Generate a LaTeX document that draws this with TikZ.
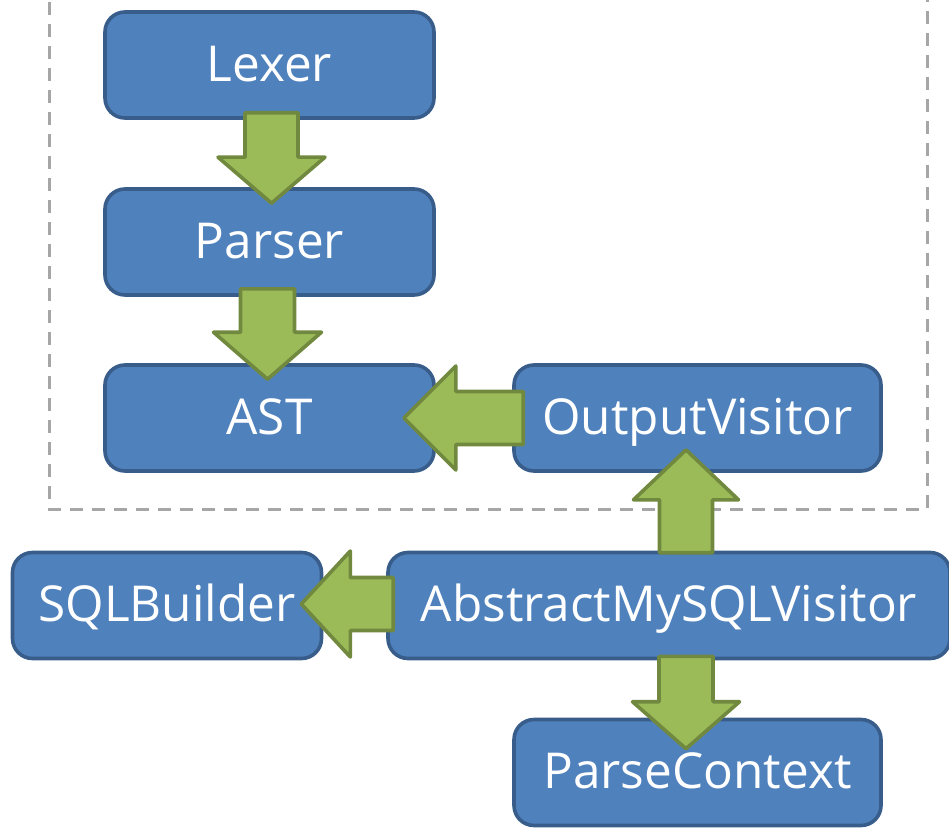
\documentclass[tikz,border=0pt]{standalone}
\usepackage{fontspec}
\setmainfont{Open Sans}
\usetikzlibrary{calc}
\definecolor{boxfill}{HTML}{4F81BD}
\definecolor{boxline}{HTML}{385D8A}
\definecolor{arrfill}{HTML}{9BBB59}
\definecolor{arrline}{HTML}{71893F}
\definecolor{dashgray}{HTML}{A6A6A6}
\newcommand{\blockarr}[5]{% tail, tip, shaft half width, head half width, head length
  \draw[garrow] let \p1=(#1), \p2=(#2),
    \n1={veclen(\x2-\x1,\y2-\y1)}, \n2={atan2(\y2-\y1,\x2-\x1)} in
    [shift={(\p1)}, rotate=\n2]
    (0,-#3) -- ({\n1-#5},-#3) -- ({\n1-#5},-#4) -- (\n1,0) --
    ({\n1-#5},#4) -- ({\n1-#5},#3) -- (0,#3) -- cycle;}
\begin{document}
\begin{tikzpicture}[x=1pt,y=1pt,
  box/.style={draw=boxline, fill=boxfill, line width=3.6pt, rounded corners=20pt,
    minimum height=106pt, text=white, font=\fontsize{49.5}{52}\selectfont, inner sep=0pt,
    text height=42pt, text depth=9.7pt},
  garrow/.style={draw=arrline, fill=arrfill, line width=3.6pt, line join=round}]
\useasboundingbox (0,0) rectangle (949,-829);
\draw[dashgray, line width=3pt, dash pattern=on 13pt off 9pt] (49,20) |- (927,-509) -- (927,20);
\node[box, minimum width=329pt] (lexer) at (269.5,-65) {Lexer};
\node[box, minimum width=329pt] (parser) at (269.5,-242) {Parser};
\node[box, minimum width=329pt] (ast) at (269.5,-418) {AST};
\node[box, minimum width=367pt] (ov) at (697.5,-418) {OutputVisitor};
\node[box, minimum width=309pt] (sqlb) at (167,-605.5) {SQLBuilder};
\node[box, minimum width=562pt] (amv) at (669,-605.5) {AbstractMySQLVisitor};
\node[box, minimum width=367pt] (pc) at (697.5,-772.5) {ParseContext};
% arrows
\coordinate (a1t) at ([xshift=2pt,yshift=7pt]lexer.south);
\coordinate (a1h) at ([xshift=2pt,yshift=-16pt]parser.north);
\blockarr{a1t}{a1h}{26.5}{53.5}{46}
\coordinate (a2t) at ([xshift=-2pt,yshift=8pt]parser.south);
\coordinate (a2h) at ([xshift=-2pt,yshift=-16pt]ast.north);
\blockarr{a2t}{a2h}{27}{54}{47}
\coordinate (a3t) at ([xshift=11pt]ov.west);
\coordinate (a3h) at ([xshift=-32pt]ast.east);
\blockarr{a3t}{a3h}{26.5}{52}{52}
\coordinate (a4b) at (686,0 |- amv.north);
\coordinate (a4t) at ([yshift=-2pt]a4b);
\coordinate (a4c) at (686,0 |- ov.south);
\coordinate (a4h) at ([yshift=23pt]a4c);
\blockarr{a4t}{a4h}{26.5}{52.5}{50}
\coordinate (a5t) at ([xshift=7pt,yshift=1.5pt]amv.west);
\coordinate (a5h) at ([xshift=-22pt,yshift=1.5pt]sqlb.east);
\blockarr{a5t}{a5h}{26.5}{53}{49}
\coordinate (a6b) at (686,0 |- amv.south);
\coordinate (a6t) at ([yshift=4pt]a6b);
\coordinate (a6c) at (686,0 |- pc.north);
\coordinate (a6h) at ([yshift=-31pt]a6c);
\blockarr{a6t}{a6h}{27}{53.5}{47}
\end{tikzpicture}
\end{document}
